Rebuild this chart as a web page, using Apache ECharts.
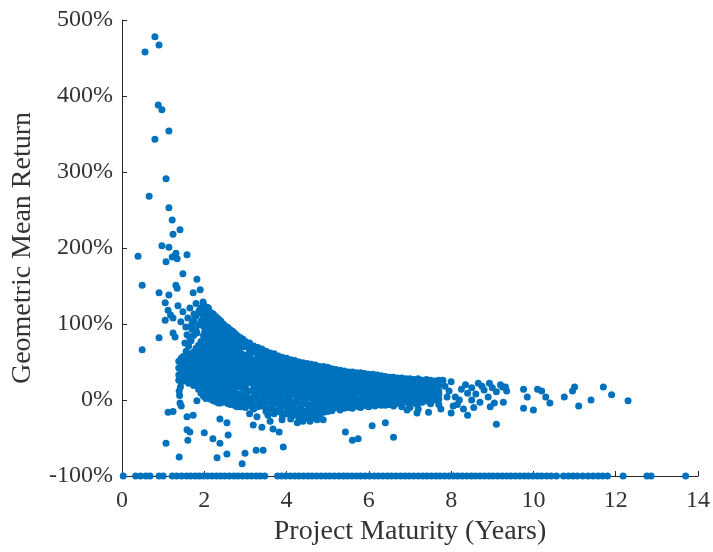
<!DOCTYPE html>
<html>
<head>
<meta charset="UTF-8">
<title>Geometric Mean Return vs Project Maturity</title>
<script src="https://cdn.jsdelivr.net/npm/echarts@6/dist/echarts.min.js"></script>
<style>
  html, body { margin: 0; padding: 0; background: #fff; }
  #main { width: 713px; height: 552px; }
</style>
</head>
<body>
<div id="main"></div>
<script>
// x = maturity in years, y = geometric mean return in %
var highPoints = [
  [0.80,478],[0.90,467],[0.56,458],[0.88,388],[0.97,382],[0.80,343],[1.14,354],
  [1.07,291],[0.66,268],[1.14,253],[1.22,237],[1.41,224],[1.24,218],[0.39,189],
  [0.97,203],[1.14,201],[1.31,193],[1.58,191],[1.07,182],[1.22,188],[1.34,186],
  [1.48,166],[1.82,159],[0.49,151],[1.31,151],[1.34,147],[1.90,145],[1.73,141],
  [0.90,141],[1.14,138],[1.05,128],[1.12,118],[1.97,129],[2.07,122],[1.48,116],
  [1.65,121],[1.05,105],[1.24,108],[0.90,82],[1.24,88],[1.29,83],[0.49,66],
  [1.53,75],[1.65,82],[1.82,88],[1.48,57],[1.18,112],[1.36,124],[1.43,103],
  [1.55,96],[1.60,108],[1.70,100],[1.75,113],[1.88,118],[1.93,104],[1.70,93],[1.58,86]
];

// main band, one column of returns per maturity
var bandColumns = [
  [1.38,[51,42,33,26]],
  [1.44,[55,47,37,29,24]],
  [1.50,[57,48,41,31,25]],
  [1.56,[54,46,36,28,64]],
  [1.62,[58,49,39,30,22,71]],
  [1.68,[61,51,44,34,27,78,96]],
  [1.74,[63,56,45,37,28,19,85,105]],
  [1.80,[68,58,49,41,31,22,92,111,127]],
  [1.86,[72,61,53,43,35,25,14,99,114]],
  [1.92,[77,68,57,46,38,29,18,9,104,121]],
  [1.98,[85,74,61,53,44,31,23,14,5,97,111,126]],
  [2.01,[90,67,48,27,9]],
  [2.04,[117,104,96,81,72,60,50,39,32,19,12,2]],
  [2.07,[112,88,64,45,24,7]],
  [2.10,[121,110,95,86,76,62,55,44,35,23,16,5]],
  [2.13,[101,79,57,40,13]],
  [2.16,[115,105,92,81,69,59,46,38,28,19,8,1]],
  [2.19,[109,85,66,51,30,4]],
  [2.22,[113,102,91,78,68,56,48,35,27,15,6,-1]],
  [2.25,[97,73,60,41,21]],
  [2.28,[110,99,87,77,65,55,44,34,26,14,4,-2]],
  [2.31,[104,82,70,49,31,9]],
  [2.34,[107,95,86,73,63,52,42,33,22,12,3]],
  [2.37,[90,78,58,37,18,-3]],
  [2.40,[104,93,82,71,60,50,41,30,20,11,1,-4]],
  [2.43,[98,75,54,35,15]],
  [2.46,[100,89,79,68,58,48,39,28,18,8,0]],
  [2.49,[94,72,62,44,24,4]],
  [2.52,[97,87,76,66,56,46,36,27,17,7,-3]],
  [2.55,[91,81,59,41,21,1]],
  [2.58,[95,84,74,63,54,44,34,25,14,5,-5]],
  [2.61,[88,70,50,31,11]],
  [2.64,[92,82,71,61,52,42,32,22,13,3,-6]],
  [2.67,[85,66,47,27,8,-2]],
  [2.70,[90,79,69,59,50,40,31,21,12,2]],
  [2.73,[83,64,45,26,6]],
  [2.76,[87,77,67,57,47,38,29,19,10,0,-8]],
  [2.79,[80,62,43,24,4]],
  [2.82,[84,75,64,55,46,36,28,18,8,-1]],
  [2.85,[78,59,40,22,3,-6]],
  [2.88,[82,72,62,53,44,35,26,17,7,-2,-9]],
  [2.91,[76,57,38,20,1]],
  [2.94,[80,70,60,51,42,33,24,15,6,-3]],
  [2.97,[74,55,37,18,0,-7]],
  [3.00,[77,70,58,53,41,35,22,17,5,-1,-10]],
  [3.05,[73,47,29,11]],
  [3.10,[75,64,59,46,40,28,23,12,2,-6]],
  [3.15,[68,52,33,-3]],
  [3.20,[71,63,53,47,36,30,19,13,4,-7,-12]],
  [3.25,[66,42,24,8]],
  [3.30,[69,58,53,43,36,25,20,8,1,-9]],
  [3.35,[62,48,31,14,-4]],
  [3.40,[67,60,49,40,35,24,18,11,-1,-8]],
  [3.45,[55,38,27,5]],
  [3.50,[64,58,46,42,31,26,14,9,-2,-11,-15]],
  [3.55,[60,50,36,19,3]],
  [3.60,[62,53,48,37,32,21,16,5,-3,-12]],
  [3.65,[57,43,28,10,-6]],
  [3.70,[61,51,46,35,30,19,15,4,-4,-14,-18]],
  [3.75,[55,41,25,7]],
  [3.80,[58,52,42,37,27,22,11,3,-6,-15]],
  [3.85,[49,33,17,-1,-11]],
  [3.90,[56,50,39,34,24,19,9,1,-7,-17,-21]],
  [3.95,[45,29,13,-4]],
  [4.00,[55,46,41,30,25,15,9,-1,-9,-18]],
  [4.05,[50,36,20,4,-13]],
  [4.10,[53,45,37,31,21,16,6,-2,-10,-19,-25]],
  [4.15,[48,27,11,-6]],
  [4.20,[52,43,38,28,23,13,7,-3,-12,-20]],
  [4.25,[46,33,18,1,-16]],
  [4.30,[50,44,34,29,19,14,4,-4,-13,-22,-28]],
  [4.35,[40,24,9,-8]],
  [4.40,[49,41,36,26,21,11,5,-5,-14,-21]],
  [4.45,[45,31,15,-1,-18]],
  [4.50,[48,40,33,27,18,12,2,-6,-15,-23]],
  [4.55,[43,22,8,-10]],
  [4.60,[47,38,34,24,19,9,3,-7,-16,-22]],
  [4.65,[41,29,13,-3]],
  [4.70,[46,39,30,25,16,10,0,-8,-15,-24]],
  [4.75,[35,20,6,-12]],
  [4.80,[44,37,32,23,17,8,2,-7,-14,-20]],
  [4.85,[40,27,11,-2]],
  [4.90,[44,36,29,24,15,9,-1,-9,-16]],
  [4.95,[32,19,4,-12]],
  [5.00,[43,35,30,21,16,7,1,-8,-15]],
  [5.05,[38,25,10,-3]],
  [5.10,[41,34,27,22,13,8,-2,-9,-14]],
  [5.15,[30,17,4,-11]],
  [5.20,[40,33,28,19,14,5,0,-8]],
  [5.25,[36,23,9,-4]],
  [5.30,[39,31,26,18,11,6,-3,-10,-13]],
  [5.35,[28,15,2,-7]],
  [5.40,[38,32,24,19,10,5,-4,-11]],
  [5.45,[34,21,8,-2]],
  [5.50,[37,30,25,16,12,3,-3,-10]],
  [5.55,[27,14,0,-8]],
  [5.60,[37,29,23,18,9,4,-5,-11]],
  [5.65,[33,20,7,-3]],
  [5.70,[36,31,22,15,11,2,-4]],
  [5.75,[26,13,-1,-9]],
  [5.80,[36,28,23,14,10,1,-6,-10]],
  [5.85,[32,19,6,-3]],
  [5.90,[35,29,21,16,8,3,-5]],
  [5.95,[25,12,-1,-8]],
  [6.00,[34,27,22,13,9,1,-5,-9]],
  [6.05,[31,18,5,-2]],
  [6.10,[34,28,20,15,7,2,-6]],
  [6.15,[24,11,0,-8]],
  [6.20,[33,26,21,12,8,0,-6]],
  [6.25,[29,17,4,-3]],
  [6.30,[32,27,19,14,6,1,-7]],
  [6.35,[23,10,-1]],
  [6.40,[31,24,20,11,7,-1,-7]],
  [6.45,[28,16,3,-4]],
  [6.50,[30,25,18,13,5,0,-6]],
  [6.55,[22,9,-2]],
  [6.60,[30,23,19,10,6,-2,-8]],
  [6.65,[27,15,2,-5]],
  [6.70,[29,24,17,12,4,0]],
  [6.75,[21,8,-3]],
  [6.80,[29,22,18,9,5,-2,-9]],
  [6.85,[26,14,1]],
  [6.90,[28,23,16,11,3,-1]],
  [6.95,[20,7,-4]],
  [7.00,[28,21,17,9,4,-3,-10]],
  [7.05,[25,13,0]],
  [7.10,[27,22,15,10,3,-2]],
  [7.15,[19,6,-5]],
  [7.20,[28,20,16,8,2,-4,-12]],
  [7.25,[24,12,-1]],
  [7.30,[26,21,14,9,3,-3]],
  [7.35,[18,5]],
  [7.40,[27,19,15,7,1]],
  [7.45,[23,11,-2]],
  [7.50,[26,20,13,8,2,-5]],
  [7.55,[17,4]],
  [7.60,[25,18,14,6,0]],
  [7.65,[22,10]],
  [7.70,[26,19,12,7,1,-6]]
];

var lowPoints = [
  [1.39,12],[1.41,-4],[1.12,-16],[1.24,-15],[1.82,-1],[1.58,-22],[1.73,-20],
  [1.58,-39],[1.65,-42],[1.60,-53],[1.07,-57],[2.00,-43],[2.21,-51],[2.38,-57],
  [1.39,-75],[2.31,-76],[2.55,-71],[2.92,-84],[2.99,-70],[2.38,-25],[2.55,-30],
  [2.58,-46],[2.34,-4],[2.80,-9],[3.16,-9],[3.26,-66],[3.43,-66],[3.92,-62],
  [3.67,-38],[3.82,-42],[5.43,-42],[5.60,-53],[5.74,-51],[6.08,-34],[6.40,-30],
  [6.60,-49],[3.40,-36],[4.26,-30],[4.40,-28],[4.57,-28],[4.74,-26],[4.89,-26],
  [1.42,17],[1.40,6],[1.44,-8],[3.19,-33],[3.28,-22],[3.10,-18],[3.55,-20],
  [3.89,-26],[3.72,-14],[3.60,-28]
];

var tailPoints = [
  [7.80,26],[8.00,24],[8.35,20],[8.66,22],[8.93,22],[9.20,20],[9.32,17],[9.27,-3],
  [8.95,-9],[8.40,-20],[8.00,-17],[7.75,-12],[7.45,-16],[7.17,-17],[6.93,-13],
  [8.70,-3],[8.50,0],[8.90,4],[8.40,9],[8.20,0],[8.10,4],[7.90,4],[7.70,9],
  [7.55,16],[8.50,16],[8.80,13],[9.10,11],[9.25,17],[9.10,-32],[9.76,14],
  [9.76,-11],[10.0,-13],[9.85,4],[10.1,14],[10.2,12],[10.3,4],[10.4,-4],
  [10.75,4],[10.95,12],[11.0,17],[11.1,-8],[11.4,0],[11.7,17],[11.9,7],[12.3,-1],
  [8.25,14],[8.60,8],[9.00,16],[8.55,-10],[8.15,-6],[9.35,12],[9.05,-4],
  [8.75,18],[8.30,-12],[7.85,18],[7.95,12],[8.05,-8]
];

// projects that lost everything (-100%)
var floorX = [
  0.03,0.33,0.45,0.58,0.68,0.90,1.00,1.22,1.33,1.45,1.57,1.67,1.78,1.88,1.98,
  2.08,2.19,2.30,2.40,2.50,2.61,2.72,2.82,2.93,3.04,3.15,3.26,3.36,3.47,3.78,
  3.88,3.98,4.09,4.20,4.30,4.41,4.52,4.62,4.73,4.84,4.95,5.05,5.16,5.27,5.38,
  5.48,5.59,5.70,5.80,5.91,6.02,6.13,6.23,6.34,6.45,6.55,6.66,6.77,6.88,6.98,
  7.09,7.20,7.31,7.41,7.52,7.63,7.73,7.84,7.95,8.06,8.16,8.27,8.38,8.49,8.59,
  8.70,8.81,8.92,9.02,9.13,9.24,9.35,9.45,9.56,9.67,9.78,9.88,9.99,10.10,10.20,
  10.32,10.43,10.56,10.73,10.85,10.96,11.07,11.20,11.33,11.45,11.57,11.68,11.80,
  12.18,12.76,12.86,13.70
];

var points = [];
highPoints.forEach(function (p) { points.push(p); });
bandColumns.forEach(function (c) {
  c[1].forEach(function (y) { points.push([c[0], y]); });
});
lowPoints.forEach(function (p) { points.push(p); });
tailPoints.forEach(function (p) { points.push(p); });
floorX.forEach(function (x) { points.push([x, -100]); });

var serif = '"Liberation Serif", "Times New Roman", serif';
var axisColor = '#262626';

var option = {
  animation: false,
  grid: { left: 122, right: 15, top: 20, bottom: 76 },
  xAxis: {
    type: 'value',
    min: 0, max: 14, interval: 2,
    name: 'Project Maturity (Years)',
    nameLocation: 'middle',
    nameGap: 41,
    nameTextStyle: { fontFamily: serif, fontSize: 28, color: '#333' },
    axisLine: { onZero: false, lineStyle: { color: axisColor, width: 1 } },
    axisTick: { inside: true, length: 5, lineStyle: { color: axisColor } },
    axisLabel: { fontFamily: serif, fontSize: 24, color: '#333', margin: 13 },
    splitLine: { show: false }
  },
  yAxis: {
    type: 'value',
    min: -100, max: 500, interval: 100,
    name: 'Geometric Mean Return',
    nameLocation: 'middle',
    nameGap: 85,
    nameTextStyle: { fontFamily: serif, fontSize: 28, color: '#333' },
    axisLine: { show: true, onZero: false, lineStyle: { color: axisColor, width: 1 } },
    axisTick: { show: true, inside: true, length: 5, lineStyle: { color: axisColor } },
    axisLabel: { formatter: '{value}%', fontFamily: serif, fontSize: 24, color: '#333', margin: 9 },
    splitLine: { show: false }
  },
  series: [{
    type: 'scatter',
    data: points,
    symbolSize: 7,
    clip: false,
    itemStyle: { color: '#0072BD', opacity: 1 }
  }]
};

var chart = echarts.init(document.getElementById('main'));
chart.setOption(option);
</script>
</body>
</html>
